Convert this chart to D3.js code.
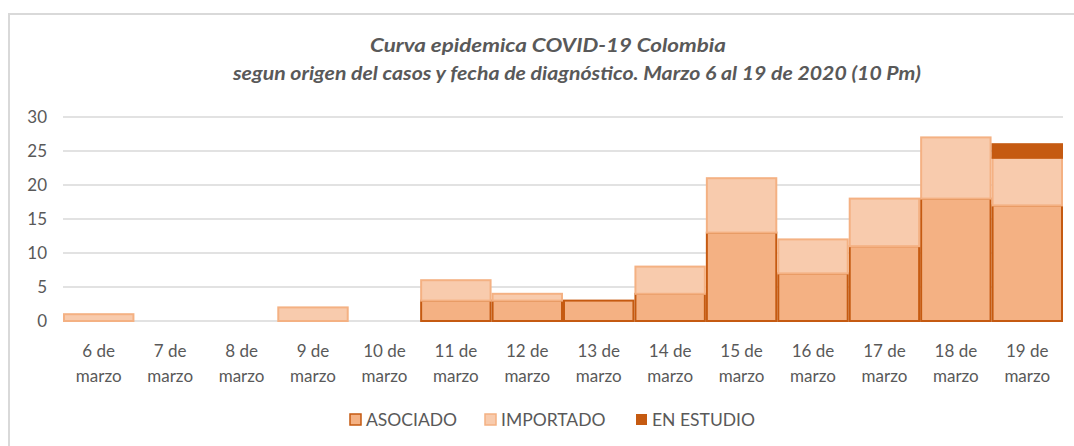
<!DOCTYPE html>
<html>
<head>
<meta charset="utf-8">
<script src="https://cdn.jsdelivr.net/npm/d3@7"></script>
<style>
  html, body { margin: 0; padding: 0; background: #fff; }
  svg text { font-family: Lato, 'Open Sans', sans-serif; fill: #595959; }
</style>
</head>
<body>
<div id="chart"></div>
<script>
// chart data
const days = ['6 de marzo', '7 de marzo', '8 de marzo', '9 de marzo', '10 de marzo', '11 de marzo', '12 de marzo',
  '13 de marzo', '14 de marzo', '15 de marzo', '16 de marzo', '17 de marzo', '18 de marzo', '19 de marzo'];
const asociado = [0, 0, 0, 0, 0, 3, 3, 3, 4, 13, 7, 11, 18, 17];
const importado = [1, 0, 0, 2, 0, 3, 1, 0, 4, 8, 5, 7, 9, 7];
const enEstudio = [0, 0, 0, 0, 0, 0, 0, 0, 0, 0, 0, 0, 0, 2];
const seriesNames = ['ASOCIADO', 'IMPORTADO', 'EN ESTUDIO'];
const yTicks = [0, 5, 10, 15, 20, 25, 30];

const W = 1074, H = 446;
const margin = { left: 63, right: 11, top: 117, bottom: 125 };

const svg = d3.select('#chart').append('svg')
  .attr('width', W)
  .attr('height', H);

// chart frame (only top and left edges show)
svg.append('path')
  .attr('d', `M9,${H} V14 H${W}`)
  .attr('fill', 'none')
  .attr('stroke', '#d9d9d9')
  .attr('stroke-width', 2);

// title
const title = svg.append('text')
  .attr('text-anchor', 'middle')
  .style('font-style', 'italic')
  .style('font-weight', 'bold')
  .style('font-size', '18px');
title.append('tspan').attr('x', 548).attr('y', 52)
  .attr('textLength', 356).attr('lengthAdjust', 'spacingAndGlyphs')
  .text('Curva epidemica COVID-19 Colombia');
title.append('tspan').attr('x', 577).attr('y', 80)
  .attr('textLength', 688).attr('lengthAdjust', 'spacingAndGlyphs')
  .text('segun origen del casos y fecha de diagnóstico. Marzo 6 al 19 de 2020 (10 Pm)');

const x = d3.scaleBand()
  .domain(days)
  .range([margin.left, W - margin.right])
  .padding(0);

const y = d3.scaleLinear()
  .domain([0, 30])
  .range([H - margin.bottom, margin.top]);

// gridlines
svg.append('g')
  .selectAll('line')
  .data(yTicks)
  .enter().append('line')
  .attr('x1', margin.left)
  .attr('x2', W - margin.right)
  .attr('y1', d => y(d))
  .attr('y2', d => y(d))
  .attr('stroke', '#d9d9d9')
  .attr('stroke-width', 1.5);

// y axis labels
const yAxis = svg.append('g')
  .attr('transform', `translate(${margin.left - 16},0)`)
  .call(d3.axisLeft(y).tickValues(yTicks).tickSize(0).tickPadding(0));
yAxis.select('.domain').remove();
yAxis.selectAll('text')
  .style('font-size', '17px')
  .style('font-family', 'Lato, sans-serif')
  .attr('fill', '#595959');

// stacked bars
const table = days.map((d, i) => ({ day: d, ASOCIADO: asociado[i], IMPORTADO: importado[i], 'EN ESTUDIO': enEstudio[i] }));
const stacked = d3.stack().keys(seriesNames)(table);

const fills = { 'ASOCIADO': '#f4b183', 'IMPORTADO': '#f8cbad', 'EN ESTUDIO': '#c55a11' };
const strokes = { 'ASOCIADO': '#c55a11', 'IMPORTADO': '#f4b183', 'EN ESTUDIO': '#c55a11' };

stacked.forEach(layer => {
  svg.append('g')
    .selectAll('rect')
    .data(layer.filter(d => d[1] > d[0]))
    .enter().append('rect')
    .attr('x', d => x(d.data.day) + 1)
    .attr('y', d => y(d[1]))
    .attr('width', x.bandwidth() - 2)
    .attr('height', d => y(d[0]) - y(d[1]))
    .attr('fill', fills[layer.key])
    .attr('stroke', strokes[layer.key])
    .attr('stroke-width', 2);
});

// x axis labels, two lines each
const xLabels = svg.append('g');
days.forEach(d => {
  const parts = d.split(' ');
  const t = xLabels.append('text')
    .attr('text-anchor', 'middle')
    .style('font-size', '17px');
  t.append('tspan').attr('x', x(d) + x.bandwidth() / 2).attr('y', 357).text(parts[0] + ' ' + parts[1]);
  t.append('tspan').attr('x', x(d) + x.bandwidth() / 2).attr('y', 382).text(parts[2]);
});

// legend
const legendX = [350, 485, 636];
const legend = svg.append('g');
seriesNames.forEach((s, i) => {
  legend.append('rect')
    .attr('x', legendX[i])
    .attr('y', 414)
    .attr('width', 11)
    .attr('height', 11)
    .attr('fill', fills[s])
    .attr('stroke', s === 'EN ESTUDIO' ? 'none' : strokes[s])
    .attr('stroke-width', 1.5);
  legend.append('text')
    .attr('x', legendX[i] + 16)
    .attr('y', 426)
    .style('font-size', '17.5px')
    .text(s);
});
</script>
</body>
</html>
